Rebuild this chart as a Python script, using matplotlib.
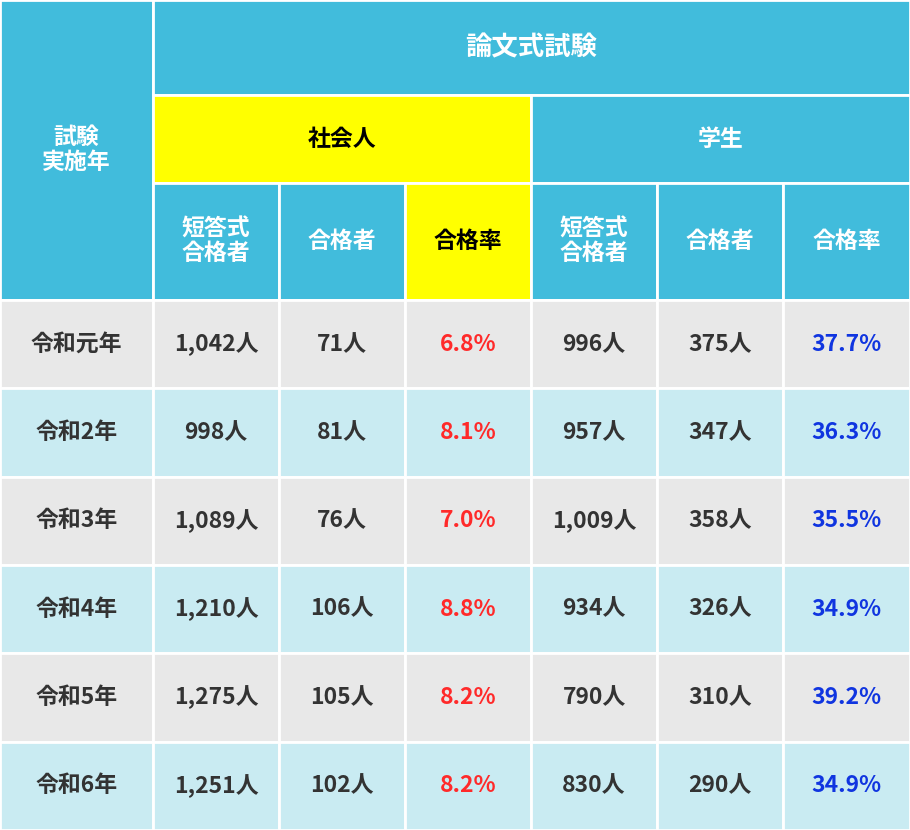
import matplotlib.pyplot as plt
from matplotlib.patches import Rectangle

plt.rcParams['font.family'] = 'Noto Sans CJK JP'

years = ['令和元年', '令和2年', '令和3年', '令和4年', '令和5年', '令和6年']
shakai_tan = ['1,042人', '998人', '1,089人', '1,210人', '1,275人', '1,251人']
shakai_gokaku = ['71人', '81人', '76人', '106人', '105人', '102人']
shakai_rate = ['6.8%', '8.1%', '7.0%', '8.8%', '8.2%', '8.2%']
gakusei_tan = ['996人', '957人', '1,009人', '934人', '790人', '830人']
gakusei_gokaku = ['375人', '347人', '358人', '326人', '310人', '290人']
gakusei_rate = ['37.7%', '36.3%', '35.5%', '34.9%', '39.2%', '34.9%']

col_x = [0, 153, 279, 405, 531, 657, 783, 910]
head_y = [0, 95, 183, 300]
row_h = 88.3

BLUE = '#41bcdc'
YELLOW = '#ffff00'
GRAY = '#e8e8e8'
LBLUE = '#c9ebf2'
DARK = '#333333'
RED = '#ff2a2a'
NAVY = '#1035e0'

fig = plt.figure(figsize=(9.1, 8.3), dpi=100)
ax = fig.add_axes([0, 0, 1, 1])
ax.set_xlim(0, 910)
ax.set_ylim(830, 0)
ax.axis('off')


def cell(x0, x1, y0, y1, fc, text='', color='white', size=16.5):
    ax.add_patch(Rectangle((x0, y0), x1 - x0, y1 - y0, facecolor=fc,
                           edgecolor='white', linewidth=2))
    if text:
        ax.text((x0 + x1) / 2, (y0 + y1) / 2, text, ha='center', va='center',
                color=color, fontsize=size, fontweight='bold', linespacing=1.1)


# header
cell(col_x[0], col_x[1], head_y[0], head_y[3], BLUE, '試験\n実施年')
cell(col_x[1], col_x[7], head_y[0], head_y[1], BLUE, '論文式試験', size=19)
cell(col_x[1], col_x[4], head_y[1], head_y[2], YELLOW, '社会人', color='black')
cell(col_x[4], col_x[7], head_y[1], head_y[2], BLUE, '学生')
subs = ['短答式\n合格者', '合格者', '合格率', '短答式\n合格者', '合格者', '合格率']
for i, s in enumerate(subs):
    fc = YELLOW if i == 2 else BLUE
    cell(col_x[i + 1], col_x[i + 2], head_y[2], head_y[3], fc, s,
         color='black' if i == 2 else 'white')

# body
cols = [years, shakai_tan, shakai_gokaku, shakai_rate,
        gakusei_tan, gakusei_gokaku, gakusei_rate]
colors = [DARK, DARK, DARK, RED, DARK, DARK, NAVY]
for r in range(len(years)):
    y0 = head_y[3] + r * row_h
    fc = GRAY if r % 2 == 0 else LBLUE
    for c in range(7):
        cell(col_x[c], col_x[c + 1], y0, y0 + row_h, fc, cols[c][r],
             color=colors[c])

fig.savefig('out.png', dpi=100)
